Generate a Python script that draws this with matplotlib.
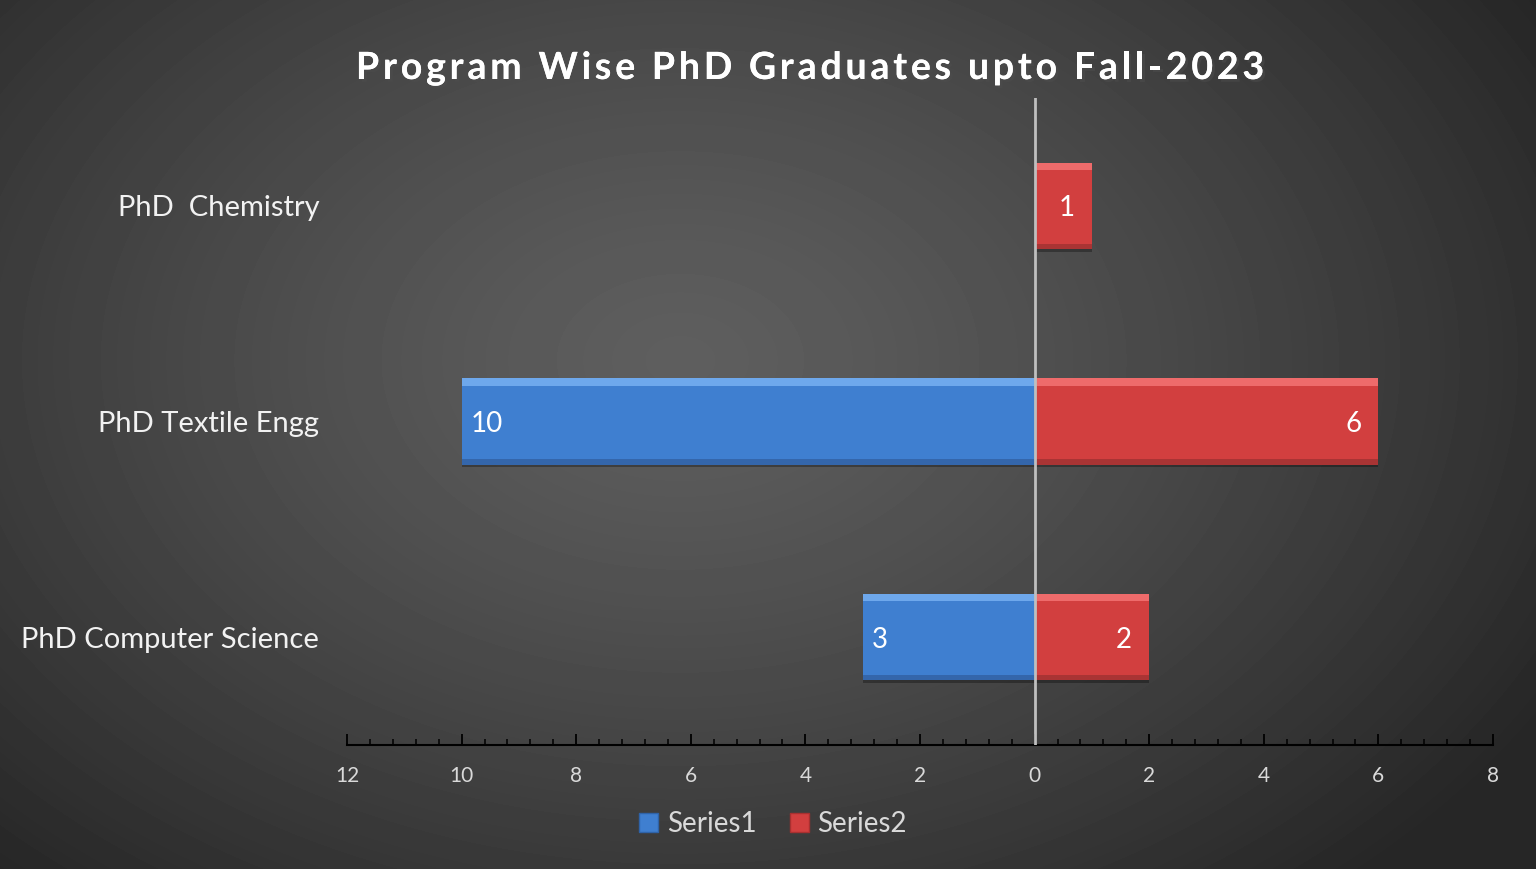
import matplotlib.pyplot as plt
import numpy as np
import matplotlib.patheffects as pe
from matplotlib.ticker import MultipleLocator, FuncFormatter
from matplotlib.patches import Patch

# data
programs = ["PhD Computer Science", "PhD Textile Engg", "PhD  Chemistry"]
series1 = [3, 10, 0]
series2 = [2, 6, 1]
series_names = ["Series1", "Series2"]
title = "Program Wise PhD Graduates upto Fall-2023"

blue = "#3f7fd0"
red = "#d23f3f"
text_col = "#f2f2f2"
tick_col = "#d9d9d9"
FONT = ["Lato", "DejaVu Sans"]

plt.rcParams['font.family'] = FONT

fig = plt.figure(figsize=(15.36, 8.69), dpi=100)

# radial gradient background
bg = fig.add_axes([0, 0, 1, 1], zorder=-10)
yy, xx = np.mgrid[0:869, 0:1536]
r = np.sqrt(((xx - 680) / 1000.0) ** 2 + ((yy - 360) / 700.0) ** 2)
r = np.clip(r, 0, 1)
shade = 0.37 - 0.22 * r ** 1.3
bg.imshow(shade, cmap="gray", vmin=0, vmax=1, aspect="auto", extent=[0, 1, 0, 1])
bg.axis("off")

ax = fig.add_axes([347 / 1536, 1 - 745 / 869, 1146 / 1536, 647 / 869])
ax.patch.set_alpha(0)

y = np.arange(len(programs))
h = 0.4


def bevel_bars(yv, vals, color, light, dark):
    ax.barh(yv - 0.012, vals, height=h, color="black", alpha=0.3, zorder=2)
    ax.barh(yv, vals, height=h, color=color, zorder=3)
    ax.barh(yv + h / 2 - 0.017, vals, height=0.034, color=light, zorder=4)
    ax.barh(yv - h / 2 + 0.012, vals, height=0.024, color=dark, zorder=4)


mask1 = np.array([v != 0 for v in series1])
neg1 = [-v for v in np.array(series1)[mask1]]
bevel_bars(y[mask1], neg1, blue, "#6ea8ec", "#3466ab")
bevel_bars(y, series2, red, "#ee6b6b", "#a93434")

# data labels (inside end)
for yi, v in zip(y, series1):
    if v:
        ax.text(-v + 0.16, yi, str(v), ha="left", va="center_baseline", color="white",
                fontsize=20, zorder=6)
for yi, v in zip(y, series2):
    ax.text(v - 0.3, yi, str(v), ha="right", va="center_baseline", color="white",
            fontsize=20, zorder=6)

# zero line
ax.axvline(0, color="#bfbfbf", lw=2, zorder=5)

ax.set_xlim(-12, 8)
ax.set_ylim(-0.5, 2.5)
ax.xaxis.set_major_locator(MultipleLocator(2))
ax.xaxis.set_minor_locator(MultipleLocator(0.4))
ax.xaxis.set_major_formatter(FuncFormatter(lambda v, p: f"{abs(v):g}"))
ax.tick_params(axis="x", which="major", direction="in", length=8, width=1.3,
               color="black", labelcolor=tick_col, labelsize=15, pad=15)
ax.tick_params(axis="x", which="minor", direction="in", length=4, width=1.1,
               color="black")

ax.set_yticks(y)
ax.set_yticklabels(programs)
ax.tick_params(axis="y", length=0, labelcolor=text_col, labelsize=21, pad=20)

for s in ["top", "right", "left"]:
    ax.spines[s].set_visible(False)
ax.spines["bottom"].set_color("black")
ax.spines["bottom"].set_linewidth(1.5)

# letter-spaced title
renderer = fig.canvas.get_renderer()
tkw = dict(color="white", fontsize=27, fontweight="bold", va="baseline",
           path_effects=[pe.withSimplePatchShadow(offset=(2, -2), alpha=0.5), pe.Normal()])
track = 3.8
widths = []
for ch in title:
    t = fig.text(0, 0, ch.replace(" ", "\u00a0") if ch == " " else ch, **tkw)
    widths.append(t.get_window_extent(renderer).width if ch != " " else None)
    t.remove()
space_w = fig.text(0, 0, "a a", **tkw)
w_aa = space_w.get_window_extent(renderer).width
space_w.remove()
tmp = fig.text(0, 0, "aa", **tkw)
w_sp = w_aa - tmp.get_window_extent(renderer).width
tmp.remove()
widths = [w if w is not None else w_sp for w in widths]
total = sum(widths) + track * (len(title) - 1)
x0 = 810 - total / 2
baseline = 869 - 79
for ch, w in zip(title, widths):
    if ch != " ":
        fig.text(x0 / 1536, baseline / 869, ch, **tkw)
    x0 += w + track

handles = [Patch(facecolor=blue, edgecolor="#2f63a8"),
           Patch(facecolor=red, edgecolor="#a83030")]
fig.legend(handles, series_names, loc="center", bbox_to_anchor=(773 / 1536, 1 - 824 / 869),
           ncol=2, frameon=False, fontsize=20, labelcolor=tick_col,
           handlelength=0.7, handleheight=0.7, handletextpad=0.3, columnspacing=1.2)

fig.savefig("out.png", dpi=100)
